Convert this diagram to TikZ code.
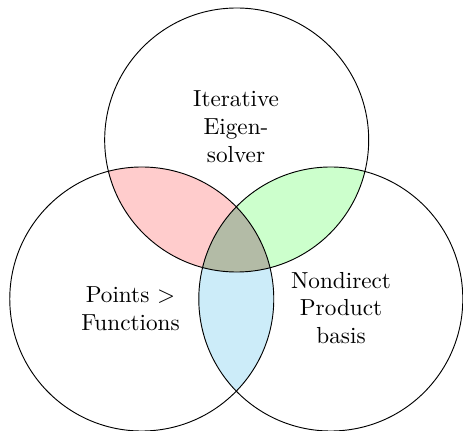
\documentclass[tikz,border=0pt]{standalone}
\usepackage{xcolor}
\definecolor{rosepale}{HTML}{FFCCCC}
\definecolor{vertpale}{HTML}{CCFFCC}
\definecolor{bleupale}{HTML}{CCECF9}
\definecolor{olivegris}{HTML}{B3BBA6}

\begin{document}
\begin{tikzpicture}[
      ensemble/.style={draw=black, line width=0.4pt},
      etiquette/.style={align=center, inner sep=1pt}]
    \useasboundingbox (0,0) rectangle (7.015,-6.515);
    \coordinate (haut)   at (3.586,-2.121);
    \coordinate (gauche) at (2.148,-4.530);
    \coordinate (droite) at (5.012,-4.530);
    % intersections deux a deux
    \begin{scope}
      \clip (haut) circle (2);
      \fill[rosepale] (gauche) circle (2);
      \fill[vertpale] (droite) circle (2);
    \end{scope}
    \begin{scope}
      \clip (gauche) circle (2);
      \fill[bleupale] (droite) circle (2);
    \end{scope}
    % intersection des trois
    \begin{scope}
      \clip (haut) circle (2);
      \clip (gauche) circle (2);
      \fill[olivegris] (droite) circle (2);
    \end{scope}
    \draw[ensemble] (haut) circle (2);
    \draw[ensemble] (gauche) circle (2);
    \draw[ensemble] (droite) circle (2);
    \node[etiquette] (iter) at (3.576,-1.924) {Iterative\\Eigen-\\solver};
    \node[etiquette] (pts)  at (1.977,-4.674) {Points $>$\\Functions};
    \node[etiquette] (ndp)  at (5.167,-4.667) {Nondirect\\Product\\basis};
  \end{tikzpicture}
\end{document}
